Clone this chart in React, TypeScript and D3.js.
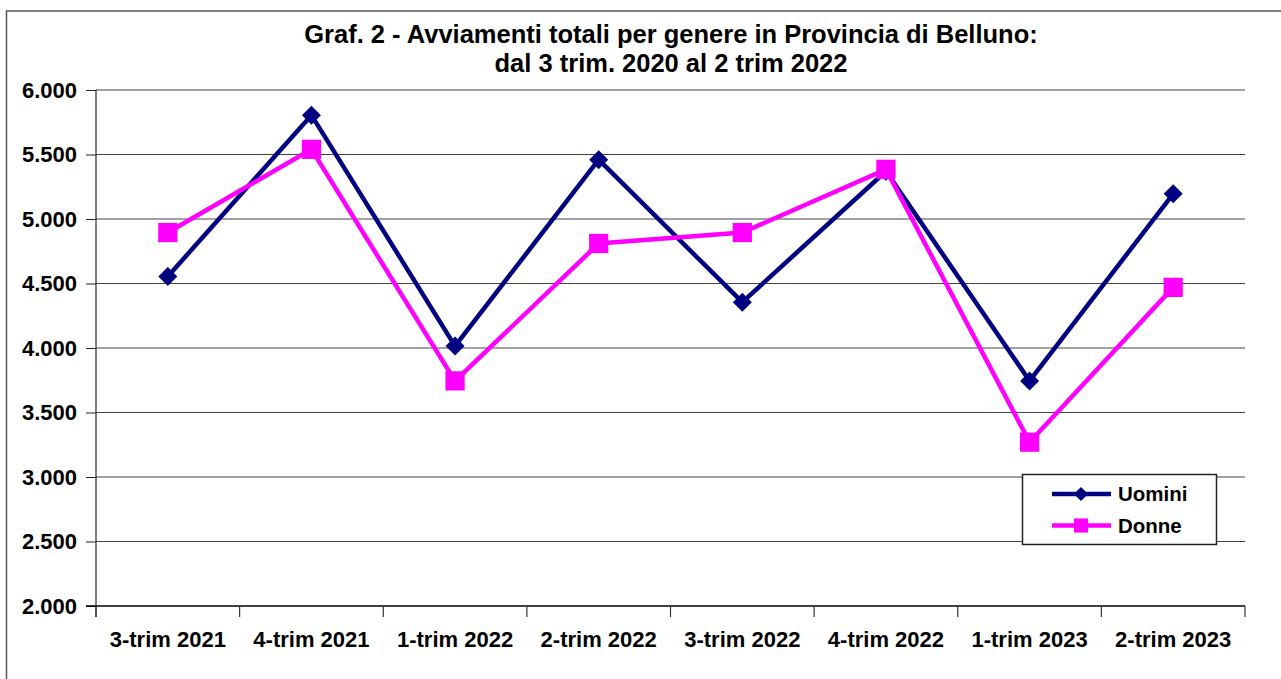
import { useEffect, useRef } from 'react';
import * as d3 from 'd3';

// Quarters on the x axis
const quarters = [
  '3-trim 2021', '4-trim 2021', '1-trim 2022', '2-trim 2022',
  '3-trim 2022', '4-trim 2022', '1-trim 2023', '2-trim 2023',
];

// Series values
const uomini = [4555, 5805, 4015, 5460, 4355, 5370, 3745, 5195];
const donne = [4895, 5540, 3745, 4810, 4895, 5385, 3270, 4470];

// Y axis ticks
const yTicks = [2000, 2500, 3000, 3500, 4000, 4500, 5000, 5500, 6000];

const titleLines = [
  'Graf. 2 - Avviamenti totali per genere in Provincia di Belluno:',
  'dal 3 trim. 2020 al 2 trim 2022',
];

const App = () => {
  const svgRef = useRef<SVGSVGElement | null>(null);

  useEffect(() => {
    document.body.style.margin = '0';

    const width = 1281;
    const height = 679;
    const marginLeft = 96;
    const marginRight = 36;
    const marginTop = 90;
    const marginBottom = 73;
    const font = '"Liberation Sans", Arial, sans-serif';

    const svg = d3.select(svgRef.current)
      .attr('width', width)
      .attr('height', height)
      .style('display', 'block')
      .style('font-family', font);
    svg.selectAll('*').remove();

    // outer chart frame (right/bottom fall outside the picture)
    svg.append('rect')
      .attr('x', 6.5).attr('y', 11)
      .attr('width', 1300).attr('height', 700)
      .attr('fill', 'white')
      .attr('stroke', '#555').attr('stroke-width', 1.5);

    // title
    svg.append('g')
      .selectAll('text')
      .data(titleLines)
      .join('text')
      .attr('x', 671)
      .attr('y', (d, i) => 43 + i * 29)
      .attr('text-anchor', 'middle')
      .attr('font-size', 25.5)
      .attr('font-weight', 'bold')
      .text(d => d);

    const x = d3.scaleBand()
      .domain(quarters)
      .range([marginLeft, width - marginRight]);

    const y = d3.scaleLinear()
      .domain([2000, 6000])
      .range([height - marginBottom, marginTop]);

    const cx = (q: string) => (x(q) || 0) + x.bandwidth() / 2;

    // gridlines
    svg.append('g')
      .selectAll('line')
      .data(yTicks.slice(1))
      .join('line')
      .attr('x1', marginLeft).attr('x2', width - marginRight)
      .attr('y1', d => y(d)).attr('y2', d => y(d))
      .attr('stroke', '#444').attr('stroke-width', 1.2);

    // y axis
    svg.append('g')
      .attr('transform', `translate(${marginLeft},0)`)
      .call(d3.axisLeft(y).tickValues(yTicks).tickSize(10).tickPadding(9)
        .tickFormat(d => d3.format(',')(d as number).replace(',', '.')))
      .call(g => g.select('.domain').attr('d', `M0,${marginTop}V${height - marginBottom + 11}`))
      .call(g => g.selectAll('line').attr('stroke', '#222'))
      .selectAll('text')
      .attr('font-size', 22)
      .attr('font-weight', 'bold')
      .attr('font-family', font)
      .attr('fill', '#000');

    // x axis
    const xAxis = svg.append('g')
      .attr('transform', `translate(0,${height - marginBottom})`);
    xAxis.append('line')
      .attr('x1', marginLeft - 10).attr('x2', width - marginRight)
      .attr('stroke', '#000').attr('stroke-width', 1.5);
    xAxis.selectAll('line.tick')
      .data([...quarters.map(q => x(q) || 0), width - marginRight])
      .join('line')
      .attr('class', 'tick')
      .attr('x1', d => d).attr('x2', d => d)
      .attr('y1', 0).attr('y2', 11)
      .attr('stroke', '#333').attr('stroke-width', 1.2);
    xAxis.selectAll('text')
      .data(quarters)
      .join('text')
      .attr('x', d => cx(d))
      .attr('y', 41)
      .attr('text-anchor', 'middle')
      .attr('font-size', 22)
      .attr('font-weight', 'bold')
      .text(d => d);

    const line = d3.line<number>()
      .x((d, i) => cx(quarters[i]))
      .y(d => y(d));

    const diamond = d3.symbol(d3.symbolSquare, 180);
    const square = d3.symbol(d3.symbolSquare, 370);

    // Uomini series
    svg.append('path')
      .datum(uomini)
      .attr('d', line)
      .attr('fill', 'none')
      .attr('stroke', '#000080')
      .attr('stroke-width', 4.5);
    svg.append('g')
      .selectAll('path')
      .data(uomini)
      .join('path')
      .attr('d', diamond)
      .attr('transform', (d, i) => `translate(${cx(quarters[i])},${y(d)}) rotate(45)`)
      .attr('fill', '#000080');

    // Donne series
    svg.append('path')
      .datum(donne)
      .attr('d', line)
      .attr('fill', 'none')
      .attr('stroke', '#FF00FF')
      .attr('stroke-width', 4.5);
    svg.append('g')
      .selectAll('path')
      .data(donne)
      .join('path')
      .attr('d', square)
      .attr('transform', (d, i) => `translate(${cx(quarters[i])},${y(d)})`)
      .attr('fill', '#FF00FF');

    // legend
    const legend = svg.append('g');
    legend.append('rect')
      .attr('x', 1022.5).attr('y', 474.5)
      .attr('width', 194).attr('height', 70)
      .attr('fill', 'white')
      .attr('stroke', '#222').attr('stroke-width', 1.5);
    const items = [
      { name: 'Uomini', color: '#000080', sym: diamond, rot: 45 },
      { name: 'Donne', color: '#FF00FF', sym: d3.symbol(d3.symbolSquare, 200), rot: 0 },
    ];
    const row = legend.selectAll('g')
      .data(items)
      .join('g')
      .attr('transform', (d, i) => `translate(0,${494 + i * 31.5})`);
    row.append('line')
      .attr('x1', 1052).attr('x2', 1111)
      .attr('stroke', d => d.color).attr('stroke-width', 4.5);
    row.append('path')
      .attr('d', d => d.sym())
      .attr('transform', d => `translate(1081,0) rotate(${d.rot}) scale(${d.rot ? 0.75 : 1})`)
      .attr('fill', d => d.color);
    row.append('text')
      .attr('x', 1118).attr('y', 7)
      .attr('font-size', 20.5)
      .attr('font-weight', 'bold')
      .text(d => d.name);
  }, []);

  return (
    <div>
      <svg ref={svgRef}></svg>
    </div>
  );
};

export default App;
